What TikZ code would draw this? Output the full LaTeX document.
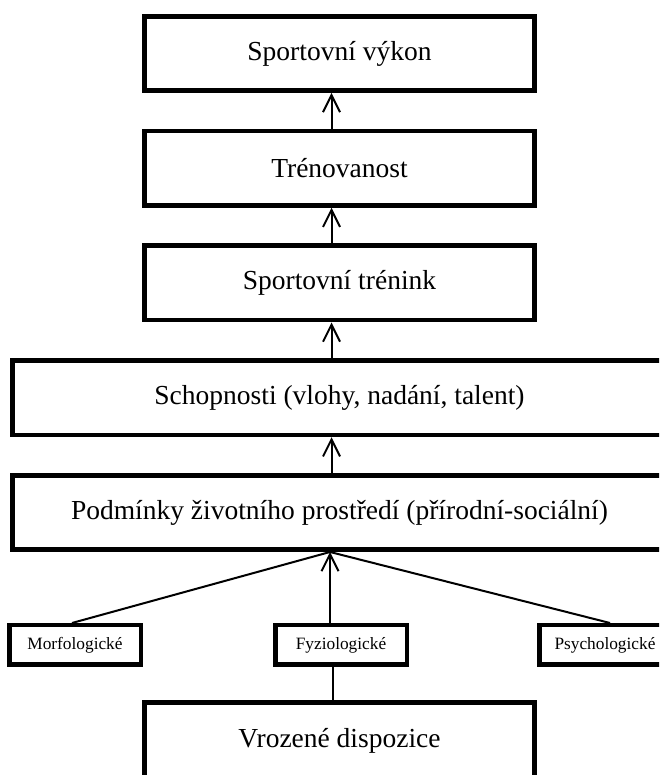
\documentclass[tikz,border=0pt]{standalone}
\usepackage{fontspec}
\setmainfont{Liberation Serif}
\usetikzlibrary{positioning,arrows.meta}

\begin{document}
\begin{tikzpicture}[x=1pt, y=1pt, node distance=35.75pt]
  \tikzstyle{box} = [rectangle, draw=black, line width=4.7pt, minimum width=390.3pt, minimum height=74.3pt, inner sep=0pt, font=\fontsize{27.5}{30}\selectfont]
  \tikzstyle{wide} = [box, minimum width=654.3pt]
  \tikzstyle{small} = [rectangle, draw=black, line width=4.5pt, minimum width=131.5pt, minimum height=39.5pt, inner sep=0pt, font=\fontsize{17.3}{19}\selectfont]
  \tikzstyle{arr} = [draw=black, line width=2pt, -{Straight Barb[length=17pt, width=17pt]}]
  \tikzstyle{link} = [draw=black, line width=2pt]

  \useasboundingbox (0,0) rectangle (659,775);
  \clip (0,0) rectangle (659,775);

  \node (vykon) [box] at (339.5,721.5) {Sportovní výkon};
  \node (trenovanost) [box, below=of vykon] {Trénovanost};
  \node (trenink) [box, below=of trenovanost] {Sportovní trénink};
  \node (schopnosti) [wide, below=of trenink] {Schopnosti (vlohy, nadání, talent)};
  \node (podminky) [wide, below=of schopnosti] {Podmínky životního prostředí (přírodní-sociální)};

  \node (fyzio) [small, below=71pt of podminky, xshift=1.5pt] {Fyziologické};
  \node (morfo) [small, left=130pt of fyzio] {Morfologické};
  \node (psycho) [small, right=128pt of fyzio] {Psychologické};
  \node (dispozice) [box, below=33pt of fyzio, xshift=-1.5pt, minimum height=78pt] {Vrozené dispozice};

  \foreach \lower/\upper in {trenovanost/vykon, trenink/trenovanost, schopnosti/trenink, podminky/schopnosti}
    \draw[arr] ([xshift=-8pt]\lower.north) -- ([xshift=-8pt]\upper.south);

  \coordinate (hub) at ([xshift=-9.5pt]podminky.south);
  \draw[arr] ([xshift=-11pt]fyzio.north) -- (hub);
  \draw[link] ([xshift=-3pt]morfo.north) -- (hub);
  \draw[link] ([xshift=5pt]psycho.north) -- (hub);
  \draw[link] ([xshift=-6.5pt]dispozice.north) -- ([xshift=-8pt]fyzio.south);
\end{tikzpicture}
\end{document}
